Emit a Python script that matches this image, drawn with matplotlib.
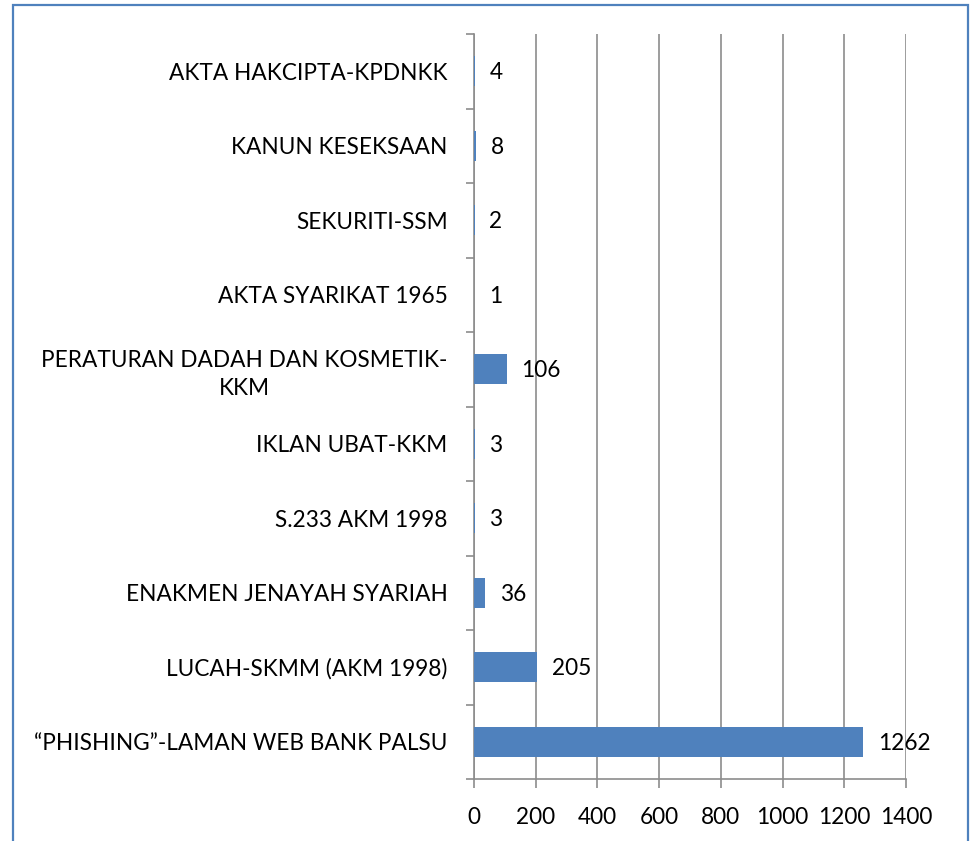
import matplotlib
matplotlib.use("Agg")
import matplotlib.pyplot as plt
from matplotlib.patches import Rectangle
from matplotlib.ticker import FixedLocator

categories = [
    "\u201cPHISHING\u201d-LAMAN WEB BANK PALSU",
    "LUCAH-SKMM (AKM 1998)",
    "ENAKMEN JENAYAH SYARIAH",
    "S.233 AKM 1998",
    "IKLAN UBAT-KKM",
    "PERATURAN DADAH DAN KOSMETIK-\nKKM",
    "AKTA SYARIKAT 1965",
    "SEKURITI-SSM",
    "KANUN KESEKSAAN",
    "AKTA HAKCIPTA-KPDNKK",
]
values = [1262, 205, 36, 3, 3, 106, 1, 2, 8, 4]
xticks = [0, 200, 400, 600, 800, 1000, 1200, 1400]

plt.rcParams['font.family'] = ['Lato', 'DejaVu Sans']
BLUE = "#4F81BD"
GRAY = "#8C8C8C"
FS = 16.3

fig = plt.figure(figsize=(9.75, 8.41), dpi=100)
ax = fig.add_axes([474/975, 1-779/841, (906-474)/975, (779-34)/841])

ypos = list(range(len(categories)))
ax.barh(ypos, values, height=0.4, color=BLUE, zorder=3)
for y, v in zip(ypos, values):
    ax.annotate(str(v), (v, y), xytext=(10.5, -1), textcoords="offset points",
                va="center", ha="left", fontsize=FS, color="black")

ax.set_xlim(0, 1400)
ax.set_ylim(-0.5, len(categories) - 0.5)
ax.set_xticks(xticks)
ax.set_xticklabels([str(t) for t in xticks], fontsize=FS)
ax.set_yticks(ypos)
ax.set_yticklabels(categories, fontsize=FS, multialignment="center", linespacing=1.4)
ax.yaxis.set_minor_locator(FixedLocator([i - 0.5 for i in range(len(categories) + 1)]))
ax.tick_params(axis="y", which="major", length=0, pad=19)
ax.tick_params(axis="y", which="minor", length=6, width=1.2, color=GRAY, direction="out")
ax.tick_params(axis="x", which="major", length=6.5, width=1.2, color=GRAY, direction="out", pad=14)

ax.grid(axis="x", color=GRAY, linewidth=1.2, zorder=0)
ax.set_axisbelow(True)
for s in ["top", "right"]:
    ax.spines[s].set_visible(False)
for s in ["left", "bottom"]:
    ax.spines[s].set_color(GRAY)
    ax.spines[s].set_linewidth(1.2)

fig.patches.append(Rectangle((13/975, -0.1), (968-13)/975, (841-5)/841 + 0.1,
                             transform=fig.transFigure, fill=False,
                             edgecolor=BLUE, linewidth=1.6))

fig.savefig("out.png", dpi=100)
